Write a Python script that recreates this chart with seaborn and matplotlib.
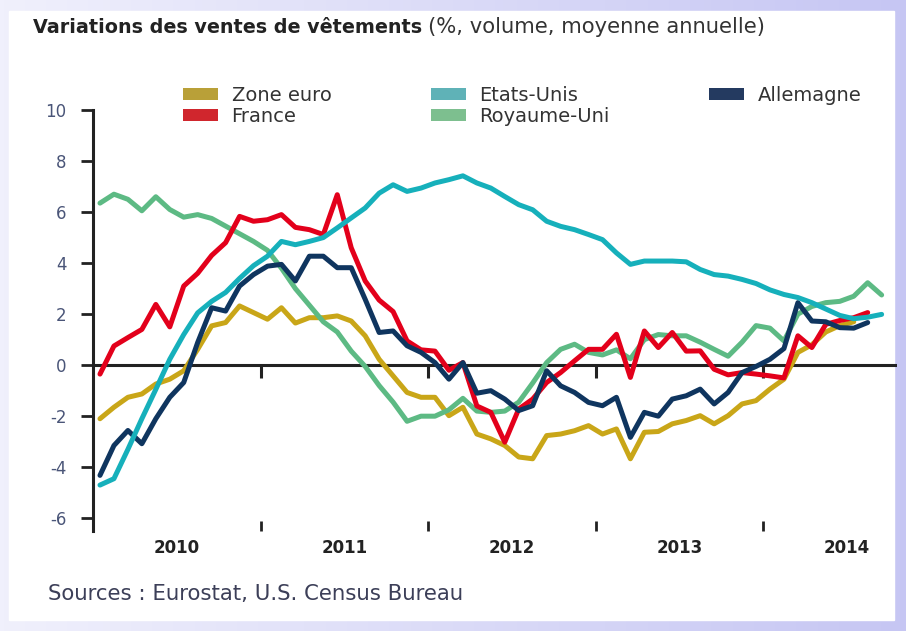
import matplotlib
matplotlib.use("Agg")
import matplotlib.pyplot as plt
from matplotlib.colors import LinearSegmentedColormap
from matplotlib.patches import Patch, Rectangle
import numpy as np
import pandas as pd
import seaborn as sns

# Variations mensuelles (glissement annuel, %) de janvier 2010 à septembre 2014
zone_euro = [-2.1, -1.65, -1.26, -1.13, -0.74, -0.55, -0.22, 0.62, 1.54, 1.67,
             2.32, 2.06, 1.8, 2.25, 1.65, 1.86, 1.86, 1.93, 1.73, 1.15,
             0.23, -0.42, -1.07, -1.26, -1.26, -1.98, -1.65, -2.7, -2.89, -3.15,
             -3.6, -3.67, -2.76, -2.7, -2.57, -2.37, -2.7, -2.5, -3.67, -2.63,
             -2.6, -2.3, -2.17, -1.98, -2.3, -1.98, -1.52, -1.39, -0.94, -0.55,
             0.5, 0.8, 1.3, 1.55, 1.7]
france = [-0.35, 0.75, 1.08, 1.4, 2.38, 1.5, 3.1, 3.6, 4.3, 4.8,
          5.83, 5.64, 5.7, 5.9, 5.4, 5.31, 5.12, 6.68, 4.6, 3.3,
          2.55, 2.1, 0.95, 0.6, 0.55, -0.2, 0.1, -1.6, -1.85, -3.02,
          -1.72, -1.33, -0.68, -0.29, 0.17, 0.62, 0.62, 1.21, -0.48, 1.34,
          0.69, 1.28, 0.55, 0.56, -0.16, -0.38, -0.29, -0.35, -0.42, -0.5,
          1.15, 0.69, 1.6, 1.75, 1.86, 2.06]
etats_unis = [-4.7, -4.45, -3.3, -2.1, -0.95, 0.23, 1.2, 2.05, 2.5, 2.85,
              3.4, 3.9, 4.27, 4.85, 4.72, 4.85, 5.0, 5.38, 5.77, 6.16,
              6.74, 7.07, 6.81, 6.94, 7.14, 7.27, 7.42, 7.14, 6.94, 6.61,
              6.29, 6.09, 5.64, 5.44, 5.31, 5.12, 4.92, 4.4, 3.95, 4.08,
              4.08, 4.08, 4.05, 3.75, 3.55, 3.49, 3.36, 3.2, 2.95, 2.77,
              2.65, 2.45, 2.2, 1.95, 1.82, 1.88, 1.99]
royaume_uni = [6.35, 6.7, 6.5, 6.05, 6.6, 6.1, 5.8, 5.9, 5.75, 5.45,
               5.15, 4.85, 4.5, 3.8, 3.0, 2.35, 1.7, 1.3, 0.55, -0.05,
               -0.8, -1.45, -2.2, -2.0, -2.0, -1.75, -1.3, -1.8, -1.85, -1.8,
               -1.45, -0.7, 0.1, 0.62, 0.82, 0.5, 0.4, 0.6, 0.25, 1.0,
               1.2, 1.15, 1.15, 0.9, 0.62, 0.35, 0.9, 1.55, 1.45, 0.95,
               2.0, 2.3, 2.45, 2.5, 2.7, 3.23, 2.75]
allemagne = [-4.32, -3.15, -2.56, -3.08, -2.1, -1.26, -0.68, 0.89, 2.25, 2.12,
             3.1, 3.55, 3.88, 3.95, 3.3, 4.27, 4.27, 3.82, 3.82, 2.58,
             1.28, 1.34, 0.76, 0.5, 0.1, -0.55, 0.1, -1.1, -1.0, -1.33,
             -1.78, -1.59, -0.22, -0.81, -1.07, -1.46, -1.59, -1.26, -2.83, -1.85,
             -2.0, -1.33, -1.2, -0.94, -1.52, -1.07, -0.29, -0.05, 0.23, 0.65,
             2.45, 1.73, 1.7, 1.47, 1.45, 1.67]

annees_labels = ["2010", "2011", "2012", "2013", "2014"]
graduations_y = [-6, -4, -2, 0, 2, 4, 6, 8, 10]

series = {
    "Zone euro": zone_euro,
    "Royaume-Uni": royaume_uni,
    "France": france,
    "Allemagne": allemagne,
    "Etats-Unis": etats_unis,
}
couleurs = {
    "Zone euro": "#c9a618",
    "France": "#e3001b",
    "Etats-Unis": "#16b0bb",
    "Royaume-Uni": "#5dba84",
    "Allemagne": "#0f355f",
}
couleurs_legende = {
    "Zone euro": "#b9a038",
    "France": "#d0262d",
    "Etats-Unis": "#5fb2b7",
    "Royaume-Uni": "#7dbf8f",
    "Allemagne": "#243a60",
}
ordre_legende = ["Zone euro", "France", "Etats-Unis", "Royaume-Uni", "Allemagne"]

# mois -> année décimale (milieu du mois)
lignes = []
for nom, valeurs in series.items():
    for i, v in enumerate(valeurs):
        lignes.append({"serie": nom, "annee": 2010 + (i + 0.5) / 12, "valeur": v})
df = pd.DataFrame(lignes)

sns.set_style("ticks")
plt.rcParams["font.family"] = ["DejaVu Sans"]
plt.rcParams["axes.unicode_minus"] = False

W, H = 906, 631
fig = plt.figure(figsize=(W / 100, H / 100), dpi=100)

# fond lavande en dégradé + cadre blanc
bg = fig.add_axes([0, 0, 1, 1], zorder=-10)
fond = LinearSegmentedColormap.from_list("fond", ["#f0f0fc", "#c6c6f3"])
bg.imshow(np.linspace(0, 1, 256)[None, :], aspect="auto", cmap=fond, extent=[0, 1, 0, 1])
bg.add_patch(Rectangle((9 / W, 11 / H), (894 - 9) / W, (620 - 11) / H, color="white"))
bg.set_xlim(0, 1)
bg.set_ylim(0, 1)
bg.set_axis_off()

ymin, ymax = -6.5, 10
ax = fig.add_axes([93 / W, (H - 531) / H, (897 - 93) / W, (531 - 110) / H])
ax.patch.set_alpha(0)
ax.axhline(0, color="#222222", lw=2.2, zorder=1)
sns.lineplot(data=df, x="annee", y="valeur", hue="serie", hue_order=list(series),
             palette=couleurs, linewidth=3.6, legend=False, ax=ax, zorder=3)

ax.set_xlim(2010, 2014.8)
ax.set_ylim(ymin, ymax)
sns.despine(ax=ax, top=True, right=True, bottom=True)
ax.spines["left"].set_linewidth(2.2)
ax.spines["left"].set_color("#222222")
ax.set_xlabel("")
ax.set_ylabel("")

ax.set_yticks(graduations_y)
ax.tick_params(axis="y", left=True, direction="out", length=9, width=2, color="#222222",
               pad=10, labelsize=12, labelcolor="#4a5578")

ax.set_xticks([2011, 2012, 2013, 2014])
ax.set_xticks([2010.5, 2011.5, 2012.5, 2013.5, 2014.5], minor=True)
ax.set_xticklabels(annees_labels, minor=True, fontweight="bold", color="#222222")
ax.tick_params(axis="x", which="major", bottom=True, direction="in", length=7.5, width=2,
               color="#222222", labelbottom=False)
ax.tick_params(axis="x", which="minor", bottom=True, length=0, pad=6, labelsize=12)

# graduations sous la ligne du zéro
sec = ax.secondary_xaxis((0 - ymin) / (ymax - ymin))
sec.set_xticks([2011, 2012, 2013, 2014])
sec.tick_params(direction="out", length=9, width=2.2, color="#222222", labelbottom=False)
sec.spines["bottom"].set_visible(False)

# titre : partie grasse + partie normale
t1 = fig.text(33 / W, 1 - 33 / H, "Variations des ventes de vêtements", fontsize=13.8,
              fontweight="bold", color="#222222", va="baseline")
r = fig.canvas.get_renderer()
bb = t1.get_window_extent(renderer=r)
fig.text((bb.x1 + 6) / W, 1 - 33 / H, "(%, volume, moyenne annuelle)", fontsize=15.2,
         color="#333333", va="baseline")

poignees = [Patch(facecolor=couleurs_legende[n], edgecolor="none", label=n) for n in ordre_legende]
fig.legend(handles=poignees, loc="upper left", bbox_to_anchor=(183 / W, 1 - 86 / H), ncol=3,
           frameon=False, fontsize=14, handlelength=1.8, handleheight=0.55, handletextpad=0.7,
           columnspacing=5.1, labelspacing=0.1, borderaxespad=0, borderpad=0,
           labelcolor="#333333")

fig.text(48 / W, 1 - 594 / H, "Sources : Eurostat, U.S. Census Bureau", fontsize=15.3,
         color="#3c3f58", va="center")

fig.savefig("out.png", dpi=100)
